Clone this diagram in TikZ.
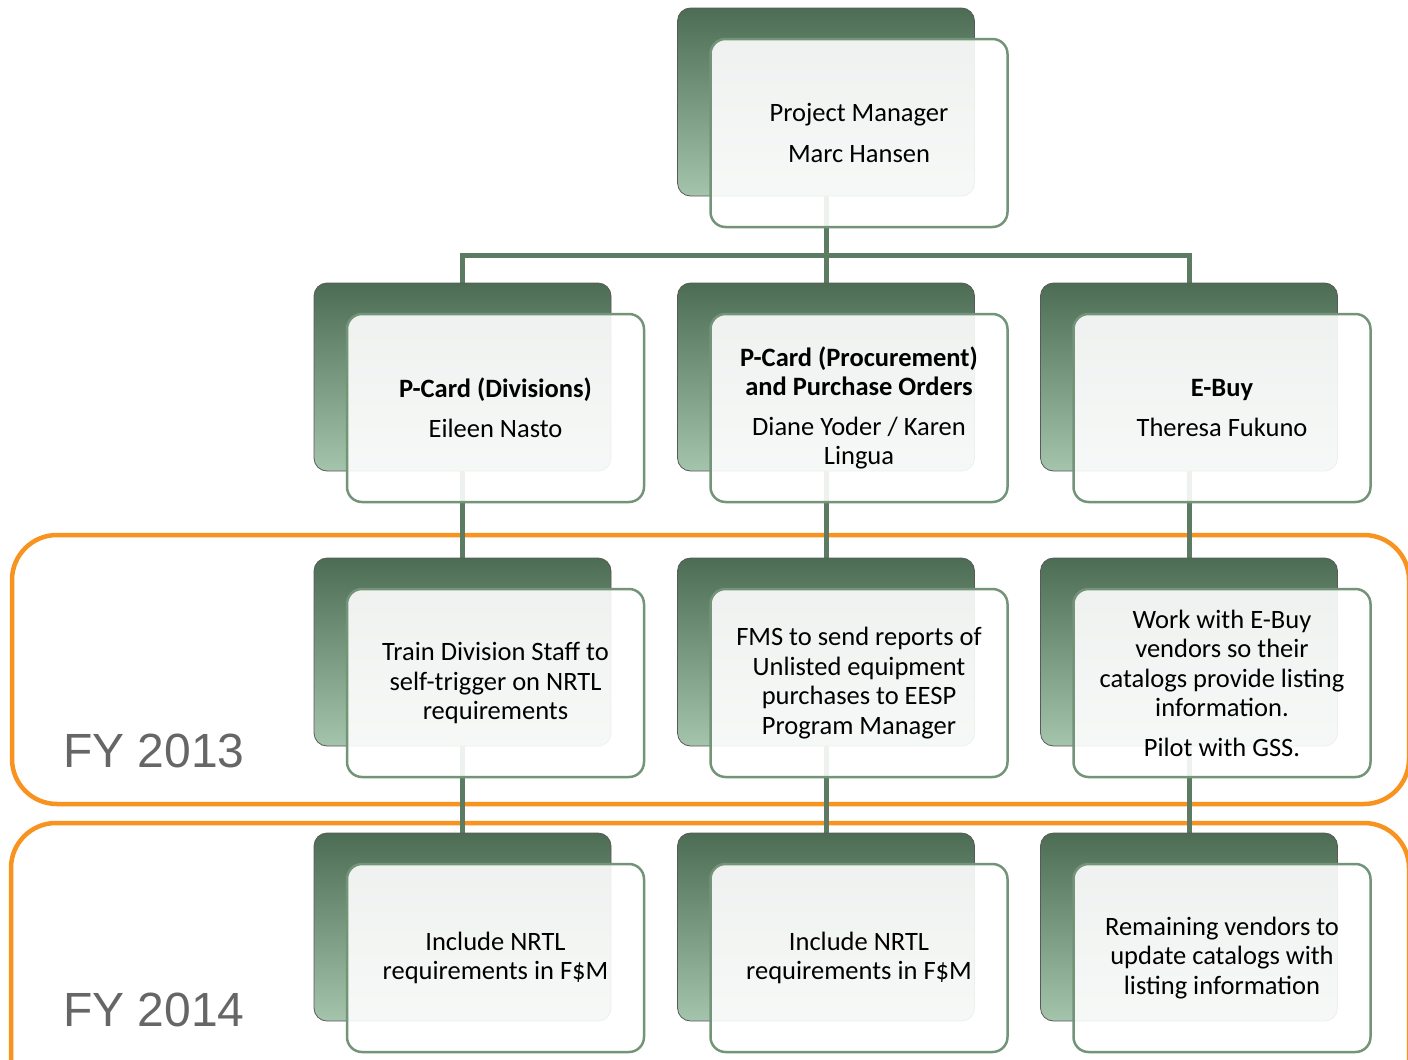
\documentclass[tikz,border=0pt]{standalone}
\usepackage{fontspec}
\setmainfont{Carlito}
\newfontfamily\fylabel{Liberation Sans}
\pgfdeclarelayer{framelayer}
\pgfdeclarelayer{linelayer}
\pgfsetlayers{framelayer,linelayer,main}
\definecolor{conncol}{HTML}{5B7B63}
\definecolor{backtop}{HTML}{4C6C54}
\definecolor{backbot}{HTML}{A4C4AC}
\definecolor{frontedge}{HTML}{739479}
\definecolor{framecol}{HTML}{F7931E}
\definecolor{fygray}{HTML}{666666}
\tikzset{
  backbox/.style={rectangle, rounded corners=13pt, minimum width=297pt, minimum height=188pt,
    top color=backtop, bottom color=backbot, draw=black!65, line width=0.8pt},
  frontbox/.style={rectangle, rounded corners=15pt, minimum width=297pt, minimum height=188pt,
    draw=frontedge, line width=2.5pt, fill=white, fill opacity=0.9, text opacity=1,
    align=center, font=\fontsize{26.5}{29.5}\selectfont, text=black, inner sep=0pt},
  conn/.style={draw=conncol, line width=5pt},
  yearframe/.style={draw=framecol, line width=4.5pt, rounded corners=45pt},
  fytext/.style={anchor=base west, text=fygray, font=\fylabel\fontsize{48}{56}\selectfont, inner sep=0pt}
}
\begin{document}
\begin{tikzpicture}[x=1pt,y=-1pt]
\clip (0,0) rectangle (1408,1060);
\begin{pgfonlayer}{framelayer}
\fill[white] (0,0) rectangle (1408,1060);
\draw[yearframe] (12,535) rectangle (1409,804);
\draw[yearframe] (11,823) rectangle (1409,1120);
\end{pgfonlayer}
\node[fytext] (fy13) at (63,767) {FY 2013};
\node[fytext] (fy14) at (63,1026) {FY 2014};
% back boxes
\node[backbox] (pmB) at (826,102) {};
\node[backbox] (b21) at (462.5,377) {};
\node[backbox] (b22) at (826,377) {};
\node[backbox] (b23) at (1189,377) {};
\node[backbox] (b31) at (462.5,652) {};
\node[backbox] (b32) at (826,652) {};
\node[backbox] (b33) at (1189,652) {};
\node[backbox] (b41) at (462.5,927) {};
\node[backbox] (b42) at (826,927) {};
\node[backbox] (b43) at (1189,927) {};
% connectors behind the boxes
\coordinate (bus) at (826,255);
\begin{pgfonlayer}{linelayer}
\draw[conn] (pmB.center) -- (bus);
\draw[conn] (b21.center) |- (bus) -| (b23.center);
\draw[conn] (bus) -- (b22.center);
\draw[conn] (b21.center) -- (b31.center) -- (b41.center);
\draw[conn] (b22.center) -- (b32.center) -- (b42.center);
\draw[conn] (b23.center) -- (b33.center) -- (b43.center);
\end{pgfonlayer}
% front boxes with the text
\node[frontbox] (pmF) at (859,133) {Project Manager\\[11pt]Marc Hansen};
\node[frontbox] (f21) at (495.5,408) {\textbf{P-Card (Divisions)}\\[11pt]Eileen Nasto};
\node[frontbox] (f22) at (859,408) {\textbf{P-Card (Procurement)}\\\textbf{and Purchase Orders}\\[10pt]Diane Yoder / Karen\\Lingua};
\node[frontbox] (f23) at (1222,408) {\textbf{E-Buy}\\[11pt]Theresa Fukuno};
\node[frontbox] (f31) at (495.5,683) {Train Division Staff to\\self-trigger on NRTL\\requirements};
\node[frontbox] (f32) at (859,683) {FMS to send reports of\\Unlisted equipment\\purchases to EESP\\Program Manager};
\node[frontbox] (f33) at (1222,683) {Work with E-Buy\\vendors so their\\catalogs provide listing\\information.\\[10pt]Pilot with GSS.};
\node[frontbox] (f41) at (495.5,958) {Include NRTL\\requirements in F\$M};
\node[frontbox] (f42) at (859,958) {Include NRTL\\requirements in F\$M};
\node[frontbox] (f43) at (1222,958) {Remaining vendors to\\update catalogs with\\listing information};
\end{tikzpicture}
\end{document}
